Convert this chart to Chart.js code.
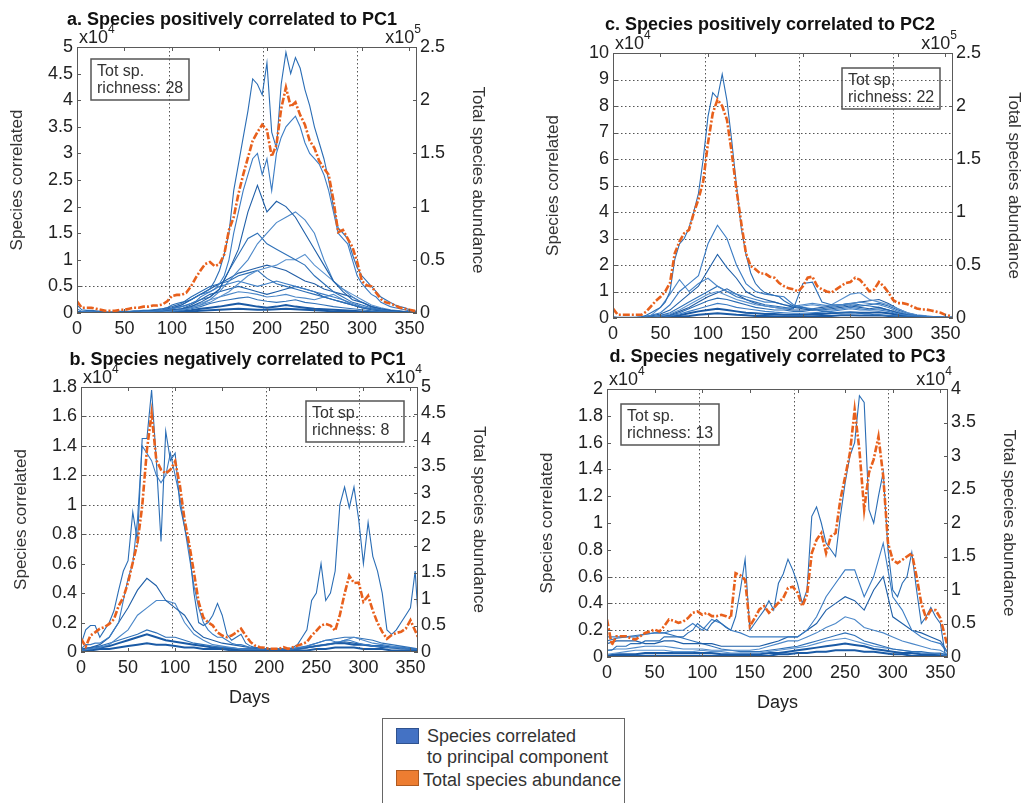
<!DOCTYPE html>
<html>
<head>
<meta charset="utf-8">
<script src="https://cdn.jsdelivr.net/npm/chart.js@4.4.0/dist/chart.umd.min.js"></script>
<style>
  body { margin: 0; background: #fff; width: 1023px; height: 803px; overflow: hidden; position: relative;
         font-family: "Liberation Sans", Arial, sans-serif; }
  canvas { position: absolute; }
  #legend { position: absolute; left: 382px; top: 718px; width: 241px; height: 100px;
            border: 1px solid #666; background: #fff; }
  #legend .sw { position: absolute; left: 13px; width: 21px; height: 14px; border: 1px solid; }
  #legend .lt { position: absolute; font-size: 18px; line-height: 21px; color: #333; white-space: nowrap; }
</style>
</head>
<body>
<div id="legend">
  <span class="sw" style="top:9px;background:#4472c4;border-color:#2f528f"></span>
  <div class="lt" style="left:44px;top:7px">Species correlated<br>to principal component</div>
  <span class="sw" style="top:51px;background:#ed7d31;border-color:#ae5a21"></span>
  <div class="lt" style="left:40px;top:51px">Total species abundance</div>
</div>
<script>
// ---- shared axis values ----
const xTicks = [0, 50, 100, 150, 200, 250, 300, 350];
const vGridDays = [97, 196, 295];

// ---- panel a: species positively correlated to PC1 ----
// totals every 5 days (x1e5), species every 5 or 10 days (x1e4)
const aTotal = [
  0.11,0.05,0.05,0.05,0.04,0.03,0.02,0.02,0.02,0.03,
  0.03,0.04,0.05,0.05,0.06,0.06,0.07,0.07,0.08,0.11,
  0.16,0.17,0.17,0.19,0.25,0.33,0.40,0.46,0.48,0.44,
  0.46,0.55,0.78,0.90,1.12,1.30,1.46,1.62,1.70,1.77,
  1.72,1.47,1.58,1.92,2.12,1.94,1.98,1.86,1.77,1.62,
  1.55,1.43,1.36,1.30,1.06,0.76,0.78,0.70,0.62,0.48,
  0.30,0.26,0.25,0.19,0.13,0.10,0.09,0.07,0.05,0.04,
  0.03,0.02,0.02];
const aSp1 = [
  0.15,0.06,0.05,0.05,0.04,0.03,0.02,0.02,0.02,0.03,
  0.03,0.03,0.04,0.04,0.05,0.05,0.06,0.07,0.08,0.10,
  0.15,0.18,0.20,0.22,0.25,0.30,0.35,0.40,0.45,0.60,
  0.80,1.10,1.50,2.30,2.80,3.30,3.80,4.40,4.30,4.10,
  4.70,3.40,3.10,4.30,4.90,4.50,4.80,4.60,4.20,3.90,
  3.50,3.20,2.90,2.50,2.00,1.60,1.50,1.40,1.10,0.85,
  0.70,0.60,0.50,0.40,0.30,0.25,0.20,0.15,0.12,0.10,
  0.06,0.04,0.03];
const aSp2 = [
  0.08,0.03,0.03,0.03,0.02,0.02,0.01,0.01,0.01,0.01,
  0.02,0.02,0.02,0.02,0.03,0.03,0.03,0.04,0.05,0.06,
  0.08,0.10,0.12,0.14,0.18,0.22,0.30,0.35,0.40,0.45,
  0.55,0.70,1.00,1.50,1.90,2.30,2.60,2.90,3.00,2.60,
  2.90,2.30,3.00,3.30,3.50,3.60,3.70,3.50,3.20,3.00,
  2.90,2.80,2.60,2.30,1.90,1.50,1.40,1.30,1.00,0.70,
  0.55,0.45,0.35,0.30,0.20,0.16,0.12,0.10,0.08,0.06,
  0.04,0.03,0.02];
const aSp3 = [0.02,0.01,0.01,0.01,0.01,0.01,0.02,0.02,0.03,0.04,
  0.06,0.08,0.12,0.20,0.30,0.45,0.80,1.20,1.90,2.40,
  1.90,2.10,2.00,1.80,1.50,1.20,0.90,0.60,0.40,0.25,
  0.20,0.12,0.08,0.05,0.03,0.02,0.01];
const aSp4 = [0.01,0.01,0.01,0.01,0.01,0.01,0.01,0.02,0.02,0.03,
  0.05,0.07,0.10,0.15,0.25,0.40,0.60,0.80,1.00,1.30,
  1.50,1.70,1.80,1.90,1.75,1.50,1.00,0.60,0.45,0.30,
  0.20,0.12,0.08,0.05,0.03,0.02,0.01];
const aSp5 = [0.02,0.01,0.01,0.01,0.01,0.01,0.02,0.02,0.03,0.05,
  0.08,0.12,0.18,0.25,0.30,0.45,0.80,1.10,1.40,1.50,
  1.30,1.20,1.10,1.00,0.90,0.70,0.55,0.40,0.30,0.20,
  0.15,0.10,0.06,0.04,0.03,0.02,0.01];
const aSp6 = [0.01,0.01,0.01,0.01,0.01,0.01,0.01,0.01,0.02,0.03,
  0.05,0.08,0.12,0.18,0.25,0.30,0.40,0.55,0.70,0.80,
  0.85,0.90,1.00,1.00,1.10,0.90,0.75,0.60,0.45,0.35,
  0.25,0.15,0.10,0.06,0.04,0.02,0.01];
const aSp7 = [0.02,0.02,0.02,0.01,0.01,0.02,0.02,0.03,0.04,0.06,
  0.10,0.15,0.25,0.35,0.45,0.55,0.65,0.75,0.80,0.85,
  0.90,0.85,0.80,0.70,0.60,0.55,0.45,0.40,0.35,0.30,
  0.20,0.12,0.08,0.05,0.03,0.02,0.01];
const aSp8 = [0.03,0.02,0.02,0.02,0.02,0.02,0.03,0.04,0.05,0.08,
  0.12,0.18,0.30,0.40,0.50,0.55,0.60,0.70,0.75,0.80,
  0.65,0.55,0.50,0.45,0.40,0.35,0.30,0.25,0.20,0.15,
  0.10,0.08,0.05,0.04,0.03,0.02,0.02];
const aSp9 = [0.02,0.02,0.01,0.01,0.01,0.01,0.02,0.02,0.03,0.05,
  0.08,0.15,0.25,0.35,0.40,0.50,0.55,0.60,0.55,0.50,
  0.55,0.60,0.55,0.50,0.45,0.40,0.35,0.30,0.25,0.18,
  0.12,0.08,0.06,0.04,0.03,0.02,0.01];
const aSp10 = [0.01,0.01,0.01,0.01,0.01,0.01,0.01,0.02,0.02,0.03,
  0.05,0.08,0.15,0.25,0.35,0.40,0.45,0.50,0.45,0.40,
  0.35,0.40,0.45,0.50,0.45,0.40,0.30,0.25,0.20,0.15,
  0.10,0.06,0.04,0.03,0.02,0.01,0.01];
const aSp11 = [0.01,0.01,0.01,0.01,0.01,0.01,0.01,0.01,0.02,0.02,
  0.04,0.06,0.10,0.15,0.20,0.30,0.35,0.40,0.38,0.35,
  0.30,0.32,0.35,0.30,0.28,0.25,0.30,0.35,0.25,0.15,
  0.10,0.06,0.04,0.02,0.02,0.01,0.01];
const aSp12 = [0.01,0.01,0.01,0.01,0.01,0.01,0.01,0.01,0.01,0.02,
  0.03,0.05,0.08,0.12,0.18,0.22,0.25,0.28,0.30,0.25,
  0.22,0.20,0.22,0.25,0.20,0.18,0.15,0.12,0.10,0.08,
  0.06,0.04,0.03,0.02,0.01,0.01,0.01];
const aSp13 = [0.01,0.01,0.01,0.00,0.00,0.00,0.01,0.01,0.01,0.01,
  0.02,0.03,0.05,0.08,0.10,0.12,0.15,0.18,0.15,0.12,
  0.10,0.12,0.15,0.12,0.10,0.08,0.07,0.06,0.05,0.04,
  0.03,0.02,0.02,0.01,0.01,0.00,0.00];
const aSp14 = [0.00,0.00,0.00,0.00,0.00,0.00,0.00,0.00,0.01,0.01,
  0.01,0.02,0.03,0.04,0.05,0.06,0.07,0.08,0.07,0.06,
  0.06,0.07,0.08,0.07,0.06,0.05,0.04,0.03,0.03,0.02,
  0.02,0.01,0.01,0.01,0.00,0.00,0.00];
const aLeftTicks = [0, 0.5, 1, 1.5, 2, 2.5, 3, 3.5, 4, 4.5, 5];
const aRightTicks = [0, 0.5, 1, 1.5, 2, 2.5];
const aHGrid = [0.5];

// ---- panel c: species positively correlated to PC2 ----
const cTotal = [
  0.09,0.03,0.03,0.03,0.03,0.03,0.03,0.06,0.11,0.16,
  0.20,0.25,0.33,0.61,0.72,0.80,0.83,0.99,1.12,1.29,
  1.65,1.93,2.06,2.00,1.87,1.56,1.21,0.90,0.61,0.49,
  0.46,0.42,0.42,0.39,0.38,0.33,0.30,0.28,0.27,0.25,
  0.30,0.38,0.39,0.30,0.27,0.25,0.24,0.27,0.30,0.33,
  0.34,0.38,0.36,0.31,0.25,0.27,0.34,0.30,0.24,0.17,
  0.14,0.14,0.13,0.11,0.09,0.08,0.08,0.07,0.06,0.05,
  0.03,0.02,0.02];
const cSp1 = [
  0.05,0.02,0.02,0.02,0.02,0.03,0.05,0.10,0.20,0.30,
  0.40,0.60,1.00,2.20,2.80,3.00,3.40,4.00,4.70,6.00,
  7.60,8.50,8.30,9.20,8.20,6.70,5.00,3.40,2.40,1.70,
  1.30,1.10,0.95,0.90,0.85,0.80,0.65,0.55,0.45,0.40,
  0.40,0.35,0.30,0.30,0.25,0.25,0.20,0.20,0.20,0.20,
  0.20,0.20,0.18,0.15,0.15,0.12,0.12,0.10,0.10,0.08,
  0.06,0.05,0.05,0.04,0.04,0.03,0.03,0.02,0.02,0.02,
  0.02,0.01,0.01];
const cSp2 = [0.02,0.02,0.02,0.03,0.10,0.20,0.50,1.00,1.30,1.60,
  2.80,3.50,3.00,2.00,1.30,1.00,0.90,0.85,0.80,0.50,
  0.40,0.35,0.30,0.30,0.35,0.40,0.35,0.30,0.30,0.25,
  0.15,0.10,0.08,0.06,0.04,0.03,0.02];
const cSp3 = [0.02,0.02,0.02,0.03,0.08,0.15,0.30,0.60,0.90,1.20,
  1.80,2.40,1.90,1.50,1.00,0.80,0.70,0.60,0.50,0.40,
  0.35,0.30,0.30,0.35,0.40,0.45,0.40,0.35,0.40,0.30,
  0.20,0.12,0.08,0.05,0.04,0.03,0.02];
const cSp4 = [0.02,0.02,0.02,0.03,0.10,0.40,0.90,1.45,1.00,1.30,
  1.50,1.20,1.00,0.90,0.80,0.70,0.60,0.60,0.50,0.45,
  0.50,0.55,0.50,0.45,0.50,0.55,0.60,0.55,0.50,0.40,
  0.25,0.15,0.10,0.06,0.04,0.03,0.02];
const cSp5 = [0.01,0.01,0.01,0.02,0.05,0.10,0.20,0.40,0.60,0.80,
  1.00,1.20,1.00,0.80,0.70,0.60,0.50,0.45,0.40,0.35,
  1.30,1.35,0.60,0.50,0.50,0.55,0.50,0.45,0.40,0.30,
  0.20,0.12,0.08,0.05,0.03,0.02,0.01];
const cSp6 = [0.01,0.01,0.01,0.02,0.04,0.08,0.15,0.30,0.50,0.70,
  0.90,1.00,0.85,0.70,0.60,0.50,0.45,0.40,0.35,0.40,
  0.45,0.50,0.45,0.50,0.70,0.90,0.95,0.70,0.60,0.50,
  0.35,0.20,0.12,0.08,0.05,0.03,0.02];
const cSp7 = [0.01,0.01,0.01,0.02,0.03,0.06,0.12,0.25,0.40,0.60,
  0.80,0.95,1.10,0.90,0.70,0.55,0.45,0.40,0.35,0.30,
  0.30,0.35,0.40,0.45,0.50,0.55,0.60,0.65,0.70,0.55,
  0.35,0.20,0.10,0.06,0.04,0.02,0.01];
const cSp8 = [0.01,0.01,0.01,0.01,0.02,0.05,0.10,0.20,0.35,0.50,
  0.65,0.75,0.70,0.60,0.50,0.40,0.35,0.30,0.30,0.25,
  0.25,0.30,0.35,0.40,0.45,0.50,0.45,0.50,0.55,0.45,
  0.30,0.18,0.10,0.06,0.04,0.02,0.01];
const cSp9 = [0.01,0.01,0.01,0.01,0.02,0.04,0.08,0.15,0.25,0.35,
  0.45,0.55,0.50,0.40,0.35,0.30,0.25,0.22,0.20,0.18,
  0.18,0.20,0.22,0.25,0.30,0.35,0.30,0.30,0.35,0.30,
  0.20,0.12,0.08,0.05,0.03,0.02,0.01];
const cSp10 = [0.01,0.01,0.01,0.01,0.02,0.03,0.05,0.10,0.18,0.25,
  0.30,0.35,0.30,0.25,0.20,0.18,0.15,0.15,0.12,0.12,
  0.12,0.15,0.15,0.18,0.20,0.22,0.20,0.20,0.22,0.18,
  0.12,0.08,0.05,0.03,0.02,0.01,0.01];
const cSp11 = [0.00,0.00,0.00,0.01,0.01,0.02,0.03,0.05,0.08,0.12,
  0.15,0.18,0.15,0.12,0.10,0.08,0.08,0.07,0.06,0.06,
  0.06,0.07,0.08,0.08,0.10,0.10,0.09,0.09,0.10,0.08,
  0.06,0.04,0.03,0.02,0.01,0.01,0.00];
const cLeftTicks = [0, 1, 2, 3, 4, 5, 6, 7, 8, 9, 10];
const cRightTicks = [0, 0.5, 1, 1.5, 2, 2.5];
const cHGrid = [1, 2, 3, 4, 5, 6, 7, 8, 9];

// ---- panel b: species negatively correlated to PC1 ----
const bTotal = [
  0.25,0.10,0.31,0.37,0.44,0.47,0.53,0.62,0.87,1.03,
  1.31,1.69,2.06,2.75,3.81,4.50,3.62,3.44,3.37,3.44,
  3.60,3.15,2.50,2.03,1.50,0.94,0.65,0.56,0.50,0.37,
  0.31,0.28,0.31,0.37,0.44,0.31,0.19,0.12,0.09,0.08,
  0.06,0.06,0.06,0.09,0.06,0.09,0.12,0.15,0.19,0.31,
  0.40,0.50,0.53,0.50,0.40,0.70,1.10,1.44,1.30,1.31,
  0.95,1.06,0.78,0.55,0.38,0.25,0.32,0.36,0.38,0.44,
  0.60,0.40,0.20];
const bSp1 = [
  0.05,0.15,0.18,0.18,0.10,0.15,0.20,0.28,0.42,0.55,
  0.62,0.95,0.75,1.45,1.45,1.78,1.30,0.75,1.50,1.30,
  1.35,1.00,0.85,0.70,0.40,0.20,0.18,0.20,0.25,0.33,
  0.25,0.12,0.08,0.10,0.12,0.06,0.04,0.03,0.03,0.02,
  0.02,0.02,0.02,0.02,0.02,0.03,0.05,0.10,0.15,0.35,
  0.40,0.60,0.35,0.40,0.55,1.00,1.12,0.98,1.12,0.90,
  0.60,0.88,0.65,0.55,0.40,0.15,0.12,0.15,0.20,0.25,
  0.30,0.55,0.05];
const bSp2 = [
  0.02,0.05,0.05,0.06,0.06,0.08,0.10,0.15,0.20,0.35,
  0.50,0.60,0.90,1.40,1.35,1.30,1.20,1.15,1.20,1.35,
  1.20,1.05,0.85,0.65,0.45,0.30,0.20,0.15,0.12,0.10,
  0.10,0.08,0.06,0.05,0.05,0.04,0.03,0.03,0.02,0.02,
  0.02,0.02,0.02,0.02,0.02,0.02,0.03,0.03,0.04,0.05,
  0.06,0.07,0.08,0.08,0.07,0.07,0.08,0.08,0.07,0.06,
  0.05,0.05,0.04,0.04,0.04,0.03,0.03,0.03,0.03,0.02,
  0.02,0.02,0.02];
const bSp3 = [0.02,0.03,0.05,0.10,0.20,0.30,0.42,0.50,0.45,0.35,
  0.30,0.25,0.15,0.10,0.08,0.06,0.05,0.04,0.03,0.02,
  0.02,0.02,0.02,0.02,0.03,0.04,0.05,0.06,0.07,0.06,
  0.05,0.04,0.03,0.03,0.02,0.02,0.02];
const bSp4 = [0.01,0.02,0.03,0.05,0.10,0.15,0.25,0.30,0.35,0.35,
  0.33,0.20,0.12,0.08,0.05,0.04,0.03,0.02,0.02,0.02,
  0.02,0.02,0.02,0.02,0.03,0.04,0.05,0.06,0.08,0.10,
  0.08,0.06,0.05,0.04,0.03,0.02,0.02];
const bSp5 = [0.02,0.03,0.04,0.06,0.08,0.10,0.12,0.15,0.13,0.10,
  0.10,0.08,0.06,0.05,0.04,0.03,0.03,0.02,0.02,0.02,
  0.02,0.02,0.02,0.03,0.04,0.06,0.08,0.09,0.10,0.10,
  0.09,0.08,0.06,0.05,0.04,0.03,0.02];
const bSp6 = [0.01,0.02,0.03,0.04,0.06,0.08,0.10,0.12,0.10,0.08,
  0.07,0.06,0.05,0.04,0.03,0.03,0.02,0.02,0.02,0.01,
  0.01,0.01,0.01,0.02,0.03,0.04,0.05,0.06,0.06,0.05,
  0.05,0.04,0.04,0.03,0.03,0.02,0.02];
const bSp7 = [0.01,0.01,0.02,0.02,0.03,0.04,0.05,0.06,0.05,0.05,
  0.04,0.03,0.03,0.02,0.02,0.02,0.01,0.01,0.01,0.01,
  0.01,0.01,0.01,0.01,0.01,0.02,0.02,0.03,0.03,0.03,
  0.02,0.02,0.02,0.01,0.01,0.01,0.01];
const bLeftTicks = [0, 0.2, 0.4, 0.6, 0.8, 1, 1.2, 1.4, 1.6, 1.8];
const bRightTicks = [0, 0.5, 1, 1.5, 2, 2.5, 3, 3.5, 4, 4.5, 5];
const bHGrid = [0.8, 1, 1.2, 1.4, 1.6];

// ---- panel d: species negatively correlated to PC3 ----
const dTotal = [
  0.56,0.18,0.31,0.31,0.31,0.28,0.26,0.31,0.36,0.38,
  0.41,0.38,0.46,0.56,0.54,0.51,0.53,0.58,0.66,0.68,
  0.63,0.66,0.61,0.61,0.63,0.61,0.58,1.25,1.22,1.15,
  0.46,0.58,0.71,0.76,0.66,0.73,0.81,0.88,1.03,1.05,
  0.96,0.76,0.93,1.55,1.75,1.85,1.55,1.80,1.85,2.35,
  2.69,3.04,3.69,3.09,2.20,2.75,2.95,3.29,2.70,1.70,
  1.45,1.40,1.45,1.50,1.55,1.20,0.80,0.58,0.70,0.70,
  0.58,0.30,0.02];
const dSp1 = [
  0.05,0.05,0.08,0.08,0.08,0.10,0.10,0.10,0.12,0.12,
  0.12,0.12,0.15,0.15,0.15,0.15,0.15,0.18,0.20,0.25,
  0.22,0.20,0.25,0.28,0.25,0.22,0.20,0.30,0.50,0.73,
  0.20,0.25,0.30,0.35,0.42,0.35,0.55,0.62,0.73,0.65,
  0.55,0.40,0.50,1.05,1.12,1.00,0.85,0.80,0.75,1.05,
  1.30,1.50,1.60,1.95,1.90,1.10,1.00,1.20,1.38,0.80,
  0.50,0.45,0.55,0.60,0.78,0.50,0.25,0.30,0.37,0.30,
  0.25,0.02,0.01];
const dSp2 = [0.15,0.15,0.15,0.15,0.17,0.18,0.18,0.20,0.20,0.25,
  0.20,0.28,0.25,0.20,0.18,0.15,0.15,0.15,0.15,0.15,
  0.15,0.20,0.30,0.45,0.55,0.65,0.65,0.45,0.60,0.85,
  0.45,0.35,0.20,0.15,0.12,0.10,0.01];
const dSp3 = [0.10,0.12,0.12,0.12,0.10,0.10,0.12,0.12,0.10,0.10,
  0.10,0.10,0.08,0.08,0.08,0.08,0.08,0.10,0.12,0.15,
  0.15,0.20,0.25,0.35,0.40,0.45,0.42,0.35,0.50,0.60,
  0.30,0.25,0.20,0.18,0.15,0.12,0.01];
const dSp4 = [0.05,0.06,0.06,0.07,0.08,0.08,0.08,0.07,0.06,0.06,
  0.06,0.05,0.05,0.05,0.05,0.05,0.06,0.08,0.10,0.12,
  0.12,0.15,0.18,0.22,0.25,0.30,0.28,0.22,0.20,0.18,
  0.15,0.12,0.10,0.08,0.06,0.05,0.01];
const dSp5 = [0.12,0.14,0.15,0.16,0.17,0.18,0.18,0.16,0.14,0.12,
  0.10,0.08,0.06,0.05,0.04,0.04,0.04,0.05,0.06,0.07,
  0.08,0.10,0.12,0.14,0.16,0.18,0.16,0.12,0.10,0.08,
  0.06,0.05,0.04,0.04,0.03,0.03,0.01];
const dSp6 = [0.02,0.03,0.04,0.05,0.05,0.05,0.05,0.04,0.04,0.04,
  0.05,0.04,0.04,0.03,0.03,0.03,0.03,0.04,0.05,0.06,
  0.07,0.08,0.10,0.12,0.13,0.14,0.12,0.10,0.08,0.07,
  0.06,0.05,0.04,0.03,0.03,0.02,0.01];
const dSp7 = [0.01,0.02,0.02,0.02,0.03,0.03,0.03,0.03,0.03,0.03,
  0.03,0.03,0.02,0.02,0.02,0.02,0.02,0.03,0.03,0.04,
  0.05,0.06,0.07,0.08,0.09,0.10,0.09,0.08,0.06,0.05,
  0.04,0.03,0.03,0.02,0.02,0.02,0.01];
const dSp8 = [0.01,0.01,0.01,0.01,0.01,0.01,0.01,0.01,0.01,0.01,
  0.01,0.01,0.01,0.01,0.01,0.01,0.01,0.01,0.02,0.02,
  0.03,0.03,0.04,0.04,0.05,0.05,0.05,0.04,0.04,0.03,
  0.02,0.02,0.01,0.01,0.01,0.01,0.00];
const dLeftTicks = [0, 0.2, 0.4, 0.6, 0.8, 1, 1.2, 1.4, 1.6, 1.8, 2];
const dRightTicks = [0, 0.5, 1, 1.5, 2, 2.5, 3, 3.5, 4];
const dHGrid = [0.2, 0.4, 0.6];

// ---- drawing ----
const FONT = '"Liberation Sans", Arial, sans-serif';
const ORANGE = '#e8601c';
const BLUES = ['#2a6db5', '#3b7cc4', '#1f5fa8', '#4c88c9', '#2f71b8', '#5a92cf', '#245fa6'];
const LW = 77, RW = 75, TOPPAD = 47, BH = 60;
Chart.defaults.font.family = FONT;

function pts(vals, step) {
  return vals.map((v, i) => ({x: i * step, y: v}));
}

function drawExp(ctx, x, y, exp, align) {
  ctx.font = '18px ' + FONT;
  const w1 = ctx.measureText('x10').width;
  ctx.font = '12px ' + FONT;
  const w2 = ctx.measureText(exp).width;
  const start = align === 'right' ? x - w1 - w2 : x;
  ctx.textAlign = 'left';
  ctx.textBaseline = 'middle';
  ctx.font = '18px ' + FONT;
  ctx.fillText('x10', start, y);
  ctx.font = '12px ' + FONT;
  ctx.fillText(exp, start + w1, y - 8);
}

const panelDeco = {
  id: 'panelDeco',
  beforeDatasetsDraw(chart, args, o) {
    const {ctx, chartArea: ca} = chart;
    const sx = chart.scales.x, sy = chart.scales.y;
    ctx.save();
    ctx.strokeStyle = '#555';
    ctx.lineWidth = 1;
    ctx.setLineDash([1.5, 2.5]);
    ctx.beginPath();
    vGridDays.forEach(d => {
      const x = Math.round(sx.getPixelForValue(d)) + 0.5;
      ctx.moveTo(x, ca.top); ctx.lineTo(x, ca.bottom);
    });
    o.hGrid.forEach(v => {
      const y = Math.round(sy.getPixelForValue(v)) + 0.5;
      ctx.moveTo(ca.left, y); ctx.lineTo(ca.right, y);
    });
    ctx.stroke();
    ctx.restore();
  },
  afterDraw(chart, args, o) {
    const {ctx, chartArea: ca} = chart;
    const sx = chart.scales.x, sy = chart.scales.y, sy1 = chart.scales.y1;
    ctx.save();
    // axes box with inward ticks
    ctx.strokeStyle = '#5a5a5a';
    ctx.lineWidth = 1;
    ctx.strokeRect(ca.left + 0.5, ca.top + 0.5, ca.width - 1, ca.height - 1);
    ctx.beginPath();
    sx.ticks.forEach(t => {
      const x = Math.round(sx.getPixelForValue(t.value)) + 0.5;
      ctx.moveTo(x, ca.bottom); ctx.lineTo(x, ca.bottom - 4);
      ctx.moveTo(x, ca.top); ctx.lineTo(x, ca.top + 4);
    });
    sy.ticks.forEach(t => {
      const y = Math.round(sy.getPixelForValue(t.value)) + 0.5;
      ctx.moveTo(ca.left, y); ctx.lineTo(ca.left + 4, y);
    });
    sy1.ticks.forEach(t => {
      const y = Math.round(sy1.getPixelForValue(t.value)) + 0.5;
      ctx.moveTo(ca.right, y); ctx.lineTo(ca.right - 4, y);
    });
    ctx.stroke();

    // panel title
    ctx.fillStyle = '#111';
    ctx.font = 'bold 18px ' + FONT;
    ctx.textAlign = 'center';
    ctx.textBaseline = 'middle';
    ctx.fillText(o.title, (ca.left + ca.right) / 2 + o.titleDx, ca.top + o.titleDy);

    // axis multipliers
    ctx.fillStyle = '#222';
    drawExp(ctx, ca.left + 2, ca.top - 9, o.expLeft, 'left');
    drawExp(ctx, ca.right + 4, ca.top - 9, o.expRight, 'right');

    // richness box
    const bx = ca.left + o.rich[0], by = ca.top + o.rich[1];
    ctx.strokeStyle = '#555';
    ctx.lineWidth = 1.5;
    ctx.strokeRect(bx, by, 98, 41);
    ctx.fillStyle = '#333';
    ctx.font = '16px ' + FONT;
    ctx.textAlign = 'left';
    ctx.fillText('Tot sp.', bx + 6, by + 13);
    ctx.fillText('richness: ' + o.richness, bx + 6, by + 30);
    ctx.restore();
  }
};

function makePanel(p) {
  const cv = document.createElement('canvas');
  cv.width = p.box[2] + LW + RW;
  cv.height = p.box[3] + TOPPAD + BH;
  cv.style.left = (p.box[0] - LW) + 'px';
  cv.style.top = (p.box[1] - TOPPAD) + 'px';
  document.body.appendChild(cv);

  const datasets = [{
    data: pts(p.total, 5), yAxisID: 'y1',
    borderColor: ORANGE, borderWidth: 2.6, borderDash: [7, 2, 2, 2]
  }];
  p.species.forEach((s, i) => {
    const low = i >= p.species.length - 2;
    datasets.push({
      data: pts(s, s.length > 40 ? 5 : 10), yAxisID: 'y',
      borderColor: low ? '#1a5aa5' : BLUES[i % BLUES.length],
      borderWidth: low ? 2 : 1.1
    });
  });

  const tickFont = {size: 18, family: FONT};
  const fmt = v => String(+Number(v).toFixed(2));
  const noGrid = {display: false, drawTicks: false};
  new Chart(cv, {
    type: 'line',
    data: {datasets},
    options: {
      responsive: false,
      animation: false,
      events: [],
      elements: {point: {radius: 0}, line: {tension: 0}},
      layout: {padding: {top: TOPPAD, left: 0, right: 0, bottom: 0}},
      plugins: {
        legend: {display: false},
        tooltip: {enabled: false},
        panelDeco: {
          title: p.title, titleDx: p.titleDx, titleDy: p.titleDy,
          expLeft: p.expLeft, expRight: p.expRight,
          rich: p.rich, richness: p.richness, hGrid: p.hGrid
        }
      },
      scales: {
        x: {
          type: 'linear', min: 0, max: 358,
          afterBuildTicks: s => { s.ticks = xTicks.map(v => ({value: v})); },
          afterFit: s => { s.height = BH; },
          grid: noGrid, border: {display: false},
          ticks: {font: tickFont, color: '#222', padding: 5, maxRotation: 0, autoSkip: false, callback: fmt},
          title: {display: p.days, text: 'Days', color: '#222', font: {size: 18, family: FONT},
                  padding: {top: 0, bottom: 3}}
        },
        y: {
          position: 'left', min: 0, max: p.leftTicks[p.leftTicks.length - 1],
          afterBuildTicks: s => { s.ticks = p.leftTicks.map(v => ({value: v})); },
          afterFit: s => { s.width = LW; },
          grid: noGrid, border: {display: false},
          ticks: {font: tickFont, color: '#222', padding: 4, autoSkip: false, callback: fmt},
          title: {display: true, text: 'Species correlated', color: '#333', font: {size: 17, family: FONT},
                  padding: {top: 7, bottom: 0}}
        },
        y1: {
          position: 'right', min: 0, max: p.rightTicks[p.rightTicks.length - 1],
          afterBuildTicks: s => { s.ticks = p.rightTicks.map(v => ({value: v})); },
          afterFit: s => { s.width = RW; },
          grid: noGrid, border: {display: false},
          ticks: {font: tickFont, color: '#222', padding: 3, autoSkip: false, callback: fmt},
          title: {display: true, text: 'Total species abundance', color: '#333', font: {size: 17, family: FONT},
                  padding: {top: 4, bottom: 0}}
        }
      }
    },
    plugins: [panelDeco]
  });
}

makePanel({
  box: [77, 47, 340, 266], title: 'a. Species positively correlated to PC1', titleDx: -15, titleDy: -27,
  total: aTotal,
  species: [aSp1, aSp2, aSp3, aSp4, aSp5, aSp6, aSp7, aSp8, aSp9, aSp10, aSp11, aSp12, aSp13, aSp14],
  leftTicks: aLeftTicks, rightTicks: aRightTicks, hGrid: aHGrid,
  expLeft: '4', expRight: '5', rich: [14, 12], richness: 28, days: false
});
makePanel({
  box: [613, 53, 340, 265], title: 'c. Species positively correlated to PC2', titleDx: -13, titleDy: -28,
  total: cTotal,
  species: [cSp1, cSp2, cSp3, cSp4, cSp5, cSp6, cSp7, cSp8, cSp9, cSp10, cSp11],
  leftTicks: cLeftTicks, rightTicks: cRightTicks, hGrid: cHGrid,
  expLeft: '4', expRight: '5', rich: [229, 15], richness: 22, days: false
});
makePanel({
  box: [81, 387, 337, 265], title: 'b. Species negatively correlated to PC1', titleDx: -12, titleDy: -27,
  total: bTotal,
  species: [bSp1, bSp2, bSp3, bSp4, bSp5, bSp6, bSp7],
  leftTicks: bLeftTicks, rightTicks: bRightTicks, hGrid: bHGrid,
  expLeft: '4', expRight: '4', rich: [225, 14], richness: 8, days: true
});
makePanel({
  box: [607, 389, 341, 268], title: 'd. Species negatively correlated to PC3', titleDx: 0, titleDy: -32,
  total: dTotal,
  species: [dSp1, dSp2, dSp3, dSp4, dSp5, dSp6, dSp7, dSp8],
  leftTicks: dLeftTicks, rightTicks: dRightTicks, hGrid: dHGrid,
  expLeft: '4', expRight: '4', rich: [14, 15], richness: 13, days: true
});
</script>
</body>
</html>
